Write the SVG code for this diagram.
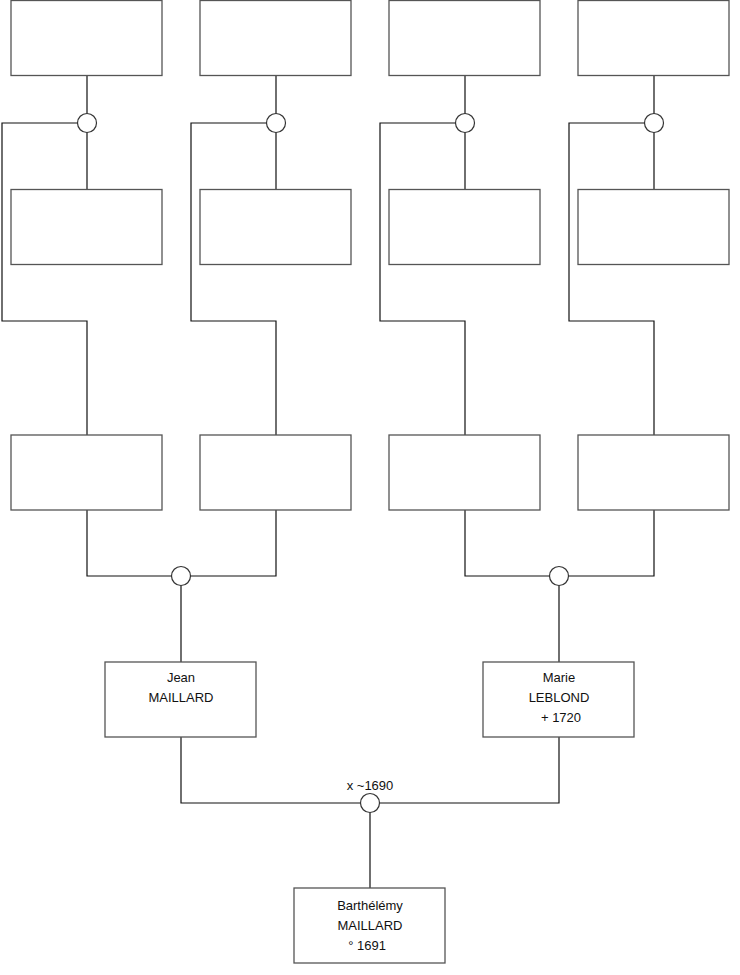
<svg xmlns="http://www.w3.org/2000/svg" width="740" height="975" viewBox="0 0 740 975">
<style>
.box{fill:#fff;stroke:#555;stroke-width:1.3}
.ln{fill:none;stroke:#111;stroke-width:1.2}
.ci{fill:#fff;stroke:#333;stroke-width:1.2}
text{font-family:"Liberation Sans",Arial,sans-serif;font-size:13px;fill:#111;text-anchor:middle}
</style>
<rect width="740" height="975" fill="#fff"/>
<g id="connectors">
<path class="ln" d="M87 75V189M87 123H2V321H87V435"/>
<path class="ln" d="M276 75V189M276 123H191V321H276V435"/>
<path class="ln" d="M465 75V189M465 123H380V321H465V435"/>
<path class="ln" d="M654 75V189M654 123H569V321H654V435"/>
<path class="ln" d="M87 510V576H276V510M181 576V662"/>
<path class="ln" d="M465 510V576H654V510M559 576V662"/>
<path class="ln" d="M181 737V803H559V737M370 803V888"/>
<circle class="ci" cx="87" cy="123" r="9.5"/>
<circle class="ci" cx="276" cy="123" r="9.5"/>
<circle class="ci" cx="465" cy="123" r="9.5"/>
<circle class="ci" cx="654" cy="123" r="9.5"/>
<circle class="ci" cx="181" cy="576" r="9.5"/>
<circle class="ci" cx="559" cy="576" r="9.5"/>
<circle class="ci" cx="370" cy="803" r="9.5"/>
<text x="370" y="790">x ~1690</text>
</g>
<g id="n1"><rect class="box" x="11" y="0.5" width="151" height="75"/></g>
<g id="n2"><rect class="box" x="200" y="0.5" width="151" height="75"/></g>
<g id="n3"><rect class="box" x="389" y="0.5" width="151" height="75"/></g>
<g id="n4"><rect class="box" x="578" y="0.5" width="151" height="75"/></g>
<g id="n5"><rect class="box" x="11" y="189.5" width="151" height="75"/></g>
<g id="n6"><rect class="box" x="200" y="189.5" width="151" height="75"/></g>
<g id="n7"><rect class="box" x="389" y="189.5" width="151" height="75"/></g>
<g id="n8"><rect class="box" x="578" y="189.5" width="151" height="75"/></g>
<g id="n9"><rect class="box" x="11" y="435" width="151" height="75"/></g>
<g id="n10"><rect class="box" x="200" y="435" width="151" height="75"/></g>
<g id="n11"><rect class="box" x="389" y="435" width="151" height="75"/></g>
<g id="n12"><rect class="box" x="578" y="435" width="151" height="75"/></g>
<g id="jean"><rect class="box" x="105" y="662" width="151" height="75"/>
<text x="181" y="682">Jean</text><text x="181" y="702">MAILLARD</text></g>
<g id="marie"><rect class="box" x="483" y="662" width="151" height="75"/>
<text x="559" y="682">Marie</text><text x="559" y="702">LEBLOND</text><text x="561" y="722">+ 1720</text></g>
<g id="barthelemy"><rect class="box" x="294" y="888" width="151" height="75"/>
<text x="370" y="910">Barthélémy</text><text x="370" y="930">MAILLARD</text><text x="367" y="950">° 1691</text></g>
</svg>
